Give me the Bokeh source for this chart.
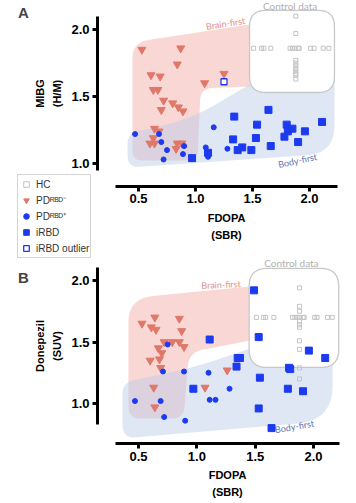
import numpy as np
from bokeh.plotting import figure
from bokeh.models import Legend, LegendItem, Label, FixedTicker, Range1d
from bokeh.layouts import column
from bokeh.embed import file_html
from bokeh.resources import INLINE
from bokeh.core.properties import value

# ---------------- data ----------------
x_ticks = [0.5, 1.0, 1.5, 2.0]
x_tick_labels = ["0.5", "1.0", "1.5", "2.0"]
y_ticks = [1.0, 1.5, 2.0]
y_tick_labels = ["1.0", "1.5", "2.0"]

legend_labels = ["HC", "PD\u1d3f\u1d2e\u1d30\u207b", "PD\u1d3f\u1d2e\u1d30\u207a", "iRBD", "iRBD outlier"]

# Panel A (MIBG)
a_hc_x = [1.51, 1.58, 1.60, 1.66, 1.83, 1.85, 1.87, 1.90, 1.91, 2.01, 2.04, 2.12, 2.17,
          1.88, 1.88, 1.88, 1.88, 1.88, 1.88, 1.88, 1.88, 1.88, 1.88]
a_hc_y = [1.86, 1.86, 1.86, 1.86, 1.86, 1.86, 1.86, 1.86, 1.86, 1.86, 1.86, 1.86, 1.86,
          2.10, 1.97, 1.77, 1.75, 1.73, 1.71, 1.69, 1.67, 1.66, 1.63]
a_pdneg_x = [0.53, 0.87, 0.84, 0.61, 0.69, 0.63, 0.67, 0.72, 0.70, 0.80, 0.85, 0.89, 1.08, 1.25,
             0.64, 0.68, 0.63, 0.60, 0.64, 0.84, 0.88, 0.83]
a_pdneg_y = [1.85, 1.86, 1.74, 1.66, 1.65, 1.55, 1.55, 1.47, 1.40, 1.45, 1.42, 1.39, 1.60, 1.67,
             1.26, 1.24, 1.19, 1.15, 1.15, 1.15, 1.15, 1.11]
a_pdpos_x = [0.47, 0.68, 0.70, 0.75, 0.72, 0.89, 0.90, 1.09, 1.11, 1.16, 1.28]
a_pdpos_y = [1.22, 1.22, 1.16, 1.10, 1.03, 1.07, 1.13, 1.12, 1.05, 1.27, 1.11]
a_irbd_x = [0.97, 1.11, 1.34, 1.64, 1.54, 2.11, 1.80, 1.85, 1.81, 1.78, 1.96, 1.90, 1.33, 1.53,
            1.66, 1.37, 1.41, 1.49]
a_irbd_y = [1.04, 1.08, 1.35, 1.40, 1.29, 1.31, 1.29, 1.26, 1.24, 1.20, 1.24, 1.16, 1.18, 1.19,
            1.13, 1.10, 1.12, 1.10]
a_out_x = [1.25]
a_out_y = [1.61]

# Panel B (Donepezil)
b_hc_x = [1.51, 1.57, 1.59, 1.66, 1.82, 1.84, 1.86, 1.88, 1.91, 1.92, 2.01, 2.03, 2.12, 2.16,
          1.88, 1.88, 1.88, 1.88, 1.88, 1.88, 1.88, 1.88, 1.88, 1.88]
b_hc_y = [1.70, 1.70, 1.70, 1.70, 1.70, 1.70, 1.70, 1.70, 1.70, 1.70, 1.70, 1.70, 1.70, 1.70,
          1.94, 1.79, 1.75, 1.67, 1.64, 1.62, 1.51, 1.44, 1.29, 1.20]
b_pdneg_x = [0.64, 0.85, 0.53, 0.61, 0.65, 0.87, 0.72, 0.79, 0.85, 0.89, 0.67, 0.70, 0.60, 0.68,
             0.69, 0.63, 1.07, 0.64, 1.26]
b_pdneg_y = [1.70, 1.69, 1.65, 1.62, 1.60, 1.59, 1.50, 1.50, 1.50, 1.46, 1.45, 1.41, 1.35, 1.36,
             1.29, 1.13, 1.13, 0.97, 1.27]
b_pdpos_x = [0.75, 0.71, 0.89, 1.10, 0.47, 0.69, 1.11, 1.16, 1.28, 0.72, 0.90]
b_pdpos_y = [1.48, 1.26, 1.26, 1.25, 1.02, 1.02, 1.03, 1.03, 1.12, 0.89, 0.86]
b_irbd_x = [1.49, 1.11, 1.53, 1.35, 1.37, 1.34, 1.96, 2.10, 1.79, 1.80, 1.54, 0.97, 1.78, 1.91,
            1.53, 1.64]
b_irbd_y = [1.92, 1.52, 1.54, 1.37, 1.37, 1.30, 1.43, 1.37, 1.29, 1.28, 1.21, 1.12, 1.12, 1.10,
            0.96, 0.80]

# Illustrative region outlines (data coords) with corner radii (px)
a_brain_x = [0.447, 0.447, 1.474, 1.474, 1.044, 1.018]
a_brain_y = [1.022, 1.903, 2.037, 1.575, 1.560, 1.022]
a_brain_r = [10, 16, 0, 0, 12, 10]
a_body_x = [0.404, 0.404, 0.956, 1.474, 1.474, 2.219, 2.219]
a_body_y = [0.970, 1.224, 1.328, 1.590, 1.634, 1.634, 1.075]
a_body_r = [12, 10, 40, 0, 0, 0, 28]
a_ctrl_x = [1.474, 1.474, 2.219, 2.219]
a_ctrl_y = [1.530, 2.142, 2.142, 1.530]
a_ctrl_r = [16, 16, 16, 16]

b_brain_x = [0.414, 0.414, 1.457, 1.457, 0.931, 0.888]
b_brain_y = [0.878, 1.854, 1.951, 1.512, 1.415, 0.878]
b_brain_r = [12, 24, 0, 0, 14, 12]
b_body_x = [0.362, 0.362, 0.948, 1.457, 1.457, 2.164, 2.164]
b_body_y = [0.715, 1.171, 1.285, 1.447, 1.512, 1.512, 0.862]
b_body_r = [14, 12, 30, 0, 0, 0, 35]
b_ctrl_x = [1.448, 1.448, 2.216, 2.216]
b_ctrl_y = [1.293, 2.098, 2.098, 1.293]
b_ctrl_r = [18, 18, 18, 18]

# ---------------- styling ----------------
C_TRI = "#E0786A"
C_BLUE = "#1C3BF0"
C_HC = "#c4c4c4"
C_PINK = "#F2A7A1"
C_BODY = "#B9C9E8"
FONT = "Liberation Sans"
W = 350


def rounded(xs, ys, rs, sx, sy, n=10):
    pts = np.column_stack([np.array(xs) * sx, np.array(ys) * sy])
    N = len(pts)
    ox, oy = [], []
    for i in range(N):
        p0, p1, p2 = pts[i - 1], pts[i], pts[(i + 1) % N]
        r = rs[i]
        if r <= 0:
            ox.append(p1[0]); oy.append(p1[1]); continue
        v1, v2 = p0 - p1, p2 - p1
        l1, l2 = np.hypot(*v1), np.hypot(*v2)
        rr = min(r, l1 / 2, l2 / 2)
        a = p1 + v1 / l1 * rr
        b = p1 + v2 / l2 * rr
        for t in np.linspace(0, 1, n):
            q = (1 - t) ** 2 * a + 2 * (1 - t) * t * p1 + t ** 2 * b
            ox.append(q[0]); oy.append(q[1])
    return list(np.array(ox) / sx), list(np.array(oy) / sy)


def make_panel(h, xr, yr, xloc, yloc, xbounds, ybounds, ylabel):
    p = figure(width=W, height=h, x_range=Range1d(*xr), y_range=Range1d(*yr),
               output_backend="svg", toolbar_location=None,
               min_border_left=0, min_border_right=0, min_border_top=0, min_border_bottom=0)
    p.grid.visible = False
    p.outline_line_color = None
    p.background_fill_color = "white"
    p.border_fill_color = "white"
    xa, ya = p.xaxis[0], p.yaxis[0]
    xa.fixed_location = yloc
    ya.fixed_location = xloc
    xa.ticker = FixedTicker(ticks=x_ticks)
    ya.ticker = FixedTicker(ticks=y_ticks)
    xa.major_label_overrides = {t: s for t, s in zip(x_ticks, x_tick_labels)}
    ya.major_label_overrides = {t: s for t, s in zip(y_ticks, y_tick_labels)}
    xa.bounds = xbounds
    ya.bounds = ybounds
    xa.axis_label = "FDOPA\n(SBR)"
    ya.axis_label = ylabel
    for ax in (xa, ya):
        ax.axis_line_width = 3
        ax.axis_line_color = "black"
        ax.major_tick_line_width = 3
        ax.major_tick_out = 5
        ax.major_tick_in = 0
        ax.minor_tick_line_color = None
        ax.major_label_text_font = FONT
        ax.major_label_text_font_style = "bold"
        ax.major_label_text_font_size = "13px"
        ax.major_label_text_color = "black"
        ax.major_label_standoff = 3
        ax.axis_label_text_font = FONT
        ax.axis_label_text_font_style = "bold"
        ax.axis_label_text_font_size = "11px"
        ax.axis_label_text_color = "black"
        ax.axis_label_text_line_height = 1.45
        ax.axis_label_standoff = 5
    return p


def draw_regions(p, brain, body, ctrl, sx, sy):
    bx, by = rounded(*brain, sx, sy)
    p.patch(bx, by, fill_color=C_PINK, fill_alpha=0.45, line_color=None)
    dx, dy = rounded(*body, sx, sy)
    p.patch(dx, dy, fill_color=C_BODY, fill_alpha=0.45, line_color=None)
    cx, cy = rounded(*ctrl, sx, sy)
    p.patch(cx, cy, fill_color="white", line_color="#c8c8c8", line_width=1.3)


def draw_points(p, hc, neg, pos, irbd, out=None):
    r_hc = p.scatter(hc[0], hc[1], marker="square", size=4, fill_color=None,
                     line_color=C_HC, line_width=1)
    r_neg = p.scatter(neg[0], neg[1], marker="inverted_triangle", size=8,
                      fill_color=C_TRI, line_color=C_TRI)
    r_pos = p.scatter(pos[0], pos[1], marker="circle", size=5,
                      fill_color=C_BLUE, line_color=C_BLUE)
    r_irbd = p.scatter(irbd[0], irbd[1], marker="square", size=7,
                       fill_color=C_BLUE, line_color=C_BLUE)
    r_out = None
    if out is not None:
        r_out = p.scatter(out[0], out[1], marker="square", size=6, fill_color="white",
                          line_color=C_BLUE, line_width=1.3)
    return r_hc, r_neg, r_pos, r_irbd, r_out


def region_text(p, x, y, txt, ang, color, size="9px"):
    p.text([x], [y], text=[txt], angle=ang, angle_units="deg", text_color=color,
           text_font=value("Lato"), text_font_size=size, text_align="center",
           text_baseline="middle")


def panel_letter(p, txt, y):
    p.add_layout(Label(x=23, y=y, x_units="screen", y_units="screen", text=txt,
                       text_font=FONT, text_font_style="bold", text_font_size="15px",
                       text_align="center", text_baseline="middle"))


# ---------------- panel A ----------------
HA = 258
a_xr = (-0.7105, -0.7105 + W / 114.0)
a_yr = (2.2164 - HA / 134.0, 2.2164)
pa = make_panel(HA, a_xr, a_yr, 0.1404, 0.8284, (0.30, 2.246), (0.95, 2.10), "MIBG\n(H/M)")
sxa, sya = 114.0, 134.0
draw_regions(pa, (a_brain_x, a_brain_y, a_brain_r), (a_body_x, a_body_y, a_body_r),
             (a_ctrl_x, a_ctrl_y, a_ctrl_r), sxa, sya)
region_text(pa, 1.263, 2.045, "Brain-first", 9, "#E28E86")
region_text(pa, 1.895, 1.022, "Body-first", 12, "#5F74AE")
region_text(pa, 1.83, 2.172, "Control data", 0, "#b0b0b0", "10px")
ra = draw_points(pa, (a_hc_x, a_hc_y), (a_pdneg_x, a_pdneg_y), (a_pdpos_x, a_pdpos_y),
                 (a_irbd_x, a_irbd_y), (a_out_x, a_out_y))
panel_letter(pa, "A", HA - 12)

legend = Legend(items=[LegendItem(label=lab, renderers=[r]) for lab, r in zip(legend_labels, ra)],
                location=(17, 0), orientation="vertical",
                padding=1, spacing=0, margin=0,
                glyph_width=14, glyph_height=16, label_height=16, label_standoff=3,
                label_text_font=FONT, label_text_font_size="10px", label_text_color="#333333",
                border_line_color="#aaaaaa", border_line_width=1,
                background_fill_color="white", background_fill_alpha=1)
pa.add_layout(legend)

# ---------------- panel B ----------------
HB = 244
b_xr = (-0.6825, -0.6825 + W / 116.7)
b_yr = (2.1789 - HB / 123.0, 2.1789)
pb = make_panel(HB, b_xr, b_yr, 0.1487, 0.6748, (0.30, 2.225), (0.83, 2.105), "Donepezil\n(SUV)")
sxb, syb = 116.7, 123.0
draw_regions(pb, (b_brain_x, b_brain_y, b_brain_r), (b_body_x, b_body_y, b_body_r),
             (b_ctrl_x, b_ctrl_y, b_ctrl_r), sxb, syb)
region_text(pb, 1.207, 1.967, "Brain-first", 3, "#E28E86")
region_text(pb, 1.836, 0.813, "Body-first", 10, "#5F74AE")
region_text(pb, 1.81, 2.146, "Control data", 0, "#b0b0b0", "10px")
draw_points(pb, (b_hc_x, b_hc_y), (b_pdneg_x, b_pdneg_y), (b_pdpos_x, b_pdpos_y),
            (b_irbd_x, b_irbd_y))
panel_letter(pb, "B", HB - 19)

layout = column(pa, pb, spacing=0)
open("out.html", "w").write(file_html(layout, INLINE))
